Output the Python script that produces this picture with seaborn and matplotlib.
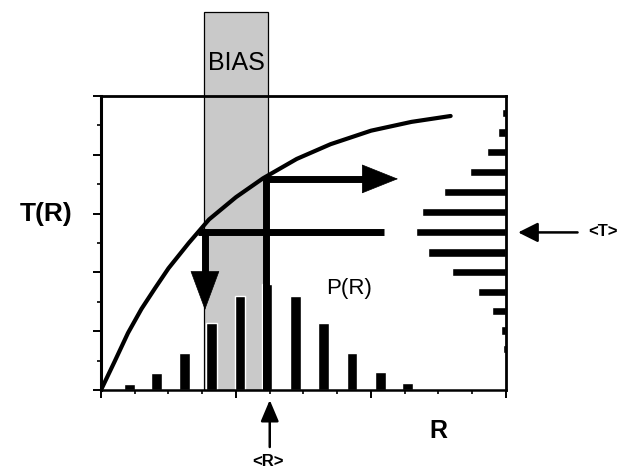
import matplotlib
matplotlib.use("Agg")
import matplotlib.pyplot as plt
from matplotlib.patches import Rectangle
from matplotlib.ticker import MultipleLocator, NullFormatter
import seaborn as sns

# ---------------- data ----------------
# histogram P(R) along the R axis
pr_pos = [0.21, 0.41, 0.62, 0.82, 1.03, 1.23, 1.44, 1.65, 1.86, 2.07, 2.27]
pr_val = [0.10, 0.29, 0.63, 1.14, 1.60, 1.80, 1.60, 1.14, 0.63, 0.31, 0.12]

# histogram P(T) along the T axis (bars grow leftwards from the right edge)
pt_pos = [4.71, 4.38, 4.05, 3.71, 3.37, 3.03, 2.69, 2.34, 2.01, 1.67, 1.34, 1.01, 0.70]
pt_val = [0.03, 0.06, 0.14, 0.27, 0.46, 0.62, 0.67, 0.58, 0.40, 0.21, 0.10, 0.04, 0.02]

# response curve T(R)
curve_r = [0.00, 0.10, 0.20, 0.30, 0.40, 0.50, 0.65, 0.80, 1.00, 1.20, 1.45, 1.70, 2.00, 2.30, 2.59]
curve_t = [0.00, 0.48, 0.97, 1.38, 1.73, 2.07, 2.50, 2.90, 3.28, 3.60, 3.93, 4.18, 4.41, 4.56, 4.66]

bias_lo, bias_hi, bias_top = 0.76, 1.235, 6.43
mean_r, t_of_mean = 1.225, 3.59
mean_t, r_of_mean_t = 2.68, 0.77

# ---------------- style ----------------
sns.set_style("ticks")
plt.rcParams["font.family"] = ["Liberation Sans", "DejaVu Sans"]
plt.rcParams["text.color"] = "black"

W, H = 626, 469
fig = plt.figure(figsize=(W / 100, H / 100), dpi=100)
ax = fig.add_axes([101 / W, (H - 390) / H, 405 / W, 294 / H])
ax.set_xlim(0, 3)
ax.set_ylim(0, 5)

# bias band (extends above the axes)
ax.add_patch(Rectangle((bias_lo, 0), bias_hi - bias_lo, bias_top,
                       facecolor="#c9c9c9", edgecolor="black", lw=0.9,
                       clip_on=False, zorder=0.5))

# histograms
ax.bar(pr_pos, pr_val, width=0.08, color="black", zorder=2)
ax.barh(pt_pos, pt_val, left=[3 - v for v in pt_val], height=0.14,
        color="black", zorder=2)

# curve
sns.lineplot(x=curve_r, y=curve_t, ax=ax, color="black", lw=3,
             sort=False, estimator=None, zorder=3)

# thick construction lines / arrows
ax.plot([mean_r, mean_r, 1.94], [0, t_of_mean, t_of_mean], color="black",
        lw=5, solid_joinstyle="miter", solid_capstyle="butt", zorder=4)
ax.annotate("", xy=(2.20, t_of_mean), xytext=(1.93, t_of_mean),
            arrowprops=dict(arrowstyle="-|>,head_length=25,head_width=10",
                            mutation_scale=1, color="black", lw=0.5,
                            shrinkA=0, shrinkB=0), zorder=4)

ax.plot([0.72, 2.10], [mean_t, mean_t], color="black", lw=5,
        solid_capstyle="butt", zorder=4)
ax.plot([r_of_mean_t, r_of_mean_t], [mean_t + 0.05, 2.00], color="black",
        lw=5, solid_capstyle="butt", zorder=4)
ax.annotate("", xy=(r_of_mean_t, 1.36), xytext=(r_of_mean_t, 2.01),
            arrowprops=dict(arrowstyle="-|>,head_length=27,head_width=10",
                            mutation_scale=1, color="black", lw=0.5,
                            shrinkA=0, shrinkB=0), zorder=4)

# thin pointer arrows
ax.annotate("", xy=(3.09, mean_t), xytext=(3.53, mean_t),
            arrowprops=dict(arrowstyle="-|>,head_length=12,head_width=6",
                            mutation_scale=1, color="black", lw=1.8,
                            shrinkA=0, shrinkB=0), annotation_clip=False)
ax.annotate("", xy=(1.25, -0.17), xytext=(1.25, -0.97),
            arrowprops=dict(arrowstyle="-|>,head_length=13,head_width=5.5",
                            mutation_scale=1, color="black", lw=1.8,
                            shrinkA=0, shrinkB=0), annotation_clip=False)

# texts
ax.text(1.0, 5.56, "BIAS", fontsize=18, ha="center", va="center", clip_on=False)
ax.text(-0.41, 2.99, "T(R)", fontsize=19, fontweight="bold", ha="center",
        va="center", clip_on=False)
ax.text(1.84, 1.73, "P(R)", fontsize=16, ha="center", va="center")
ax.text(2.50, -0.70, "R", fontsize=18, fontweight="bold", ha="center",
        va="center", clip_on=False)
ax.text(1.24, -1.22, "<R>", fontsize=12, fontweight="bold", ha="center",
        va="center", clip_on=False)
ax.text(3.72, 2.69, "<T>", fontsize=12, fontweight="bold", ha="center",
        va="center", clip_on=False)

# axes styling
ax.xaxis.set_major_locator(MultipleLocator(1))
ax.xaxis.set_minor_locator(MultipleLocator(0.25))
ax.yaxis.set_major_locator(MultipleLocator(1))
ax.yaxis.set_minor_locator(MultipleLocator(0.5))
ax.xaxis.set_major_formatter(NullFormatter())
ax.yaxis.set_major_formatter(NullFormatter())
ax.tick_params(which="major", direction="out", length=6, width=1.4, color="black")
ax.tick_params(which="minor", direction="out", length=3, width=1.2, color="black")
ax.tick_params(top=False, right=False, which="both")
for side, lw in {"left": 2.2, "bottom": 1.8, "top": 2.0, "right": 2.0}.items():
    ax.spines[side].set_visible(True)
    ax.spines[side].set_linewidth(lw)
    ax.spines[side].set_color("black")
ax.set_facecolor("white")
ax.grid(False)

fig.savefig("out.png", dpi=100, facecolor="white")
